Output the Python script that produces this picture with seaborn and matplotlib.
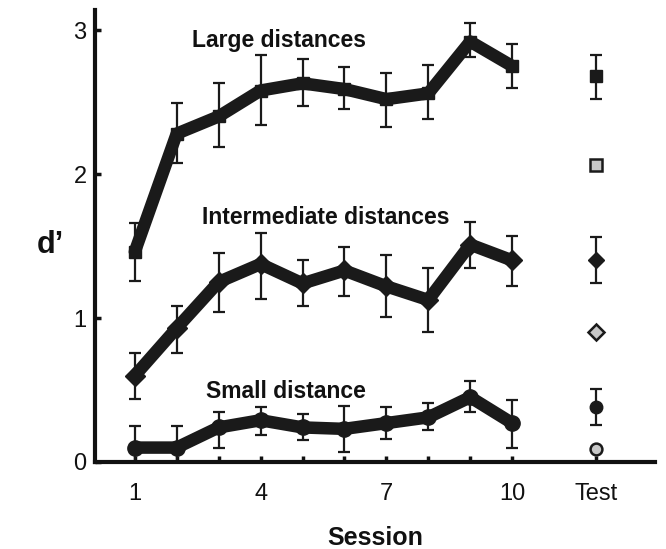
import matplotlib
matplotlib.use("Agg")
import matplotlib.pyplot as plt
import seaborn as sns
import numpy as np
import pandas as pd

sessions = [1, 2, 3, 4, 5, 6, 7, 8, 9, 10]
test_x = 12

large = [1.46, 2.28, 2.40, 2.58, 2.63, 2.59, 2.52, 2.56, 2.92, 2.75]
large_hi = [1.66, 2.49, 2.63, 2.83, 2.80, 2.74, 2.70, 2.76, 3.05, 2.90]
large_lo = [1.26, 2.08, 2.19, 2.34, 2.47, 2.45, 2.33, 2.38, 2.81, 2.60]

inter = [0.60, 0.93, 1.25, 1.375, 1.24, 1.33, 1.22, 1.125, 1.51, 1.40]
inter_hi = [0.76, 1.08, 1.45, 1.59, 1.40, 1.49, 1.44, 1.35, 1.67, 1.57]
inter_lo = [0.44, 0.76, 1.04, 1.13, 1.08, 1.15, 1.01, 0.90, 1.35, 1.22]

small = [0.10, 0.10, 0.24, 0.29, 0.24, 0.23, 0.27, 0.31, 0.45, 0.27]
small_hi = [0.25, 0.25, 0.35, 0.38, 0.33, 0.39, 0.38, 0.41, 0.56, 0.43]
small_lo = [-0.05, -0.05, 0.10, 0.19, 0.15, 0.07, 0.16, 0.22, 0.35, 0.10]

test_black = [2.68, 1.40, 0.38]
test_black_hi = [2.83, 1.56, 0.51]
test_black_lo = [2.52, 1.24, 0.26]
test_gray = [2.06, 0.90, 0.09]

labels = ["Large distances", "Intermediate distances", "Small distance"]
markers = ["s", "D", "o"]
xtick_pos = [1, 4, 7, 10, 12]
xtick_labels = ["1", "4", "7", "10", "Test"]

sns.set_style("ticks")
plt.rcParams['font.family'] = ['Liberation Sans', 'DejaVu Sans']
plt.rcParams['text.color'] = '#111111'
plt.rcParams['axes.labelcolor'] = '#111111'
plt.rcParams['xtick.color'] = '#111111'
plt.rcParams['ytick.color'] = '#111111'

fig = plt.figure(figsize=(6.66, 5.49), dpi=100)
ax = fig.add_axes([0.1426, 0.1585, 0.8404, 0.8235])

series = [(large, large_lo, large_hi), (inter, inter_lo, inter_hi), (small, small_lo, small_hi)]
msizes = [9, 10, 11]
for (vals, lo, hi), mk, ms in zip(series, markers, msizes):
    df = pd.DataFrame({"session": sessions, "d": vals})
    yerr = [np.array(vals) - np.array(lo), np.array(hi) - np.array(vals)]
    ax.errorbar(sessions, vals, yerr=yerr, fmt="none", ecolor="#1a1a1a",
                elinewidth=1.6, capsize=4, capthick=1.6, zorder=2)
    sns.lineplot(data=df, x="session", y="d", ax=ax, color="#1a1a1a",
                 linewidth=9, marker=mk, markersize=ms, markeredgecolor="#1a1a1a",
                 markeredgewidth=1, zorder=3, legend=False)

for v, lo, hi, mk in zip(test_black, test_black_lo, test_black_hi, markers):
    ax.errorbar([test_x], [v], yerr=[[v - lo], [hi - v]], fmt="none", ecolor="#1a1a1a",
                elinewidth=1.6, capsize=4, capthick=1.6, zorder=2)
    ax.plot([test_x], [v], marker=mk, markersize=9 if mk != "D" else 8.5,
            color="#1a1a1a", markeredgecolor="#1a1a1a", linestyle="none", zorder=3)
for v, mk in zip(test_gray, markers):
    ax.plot([test_x], [v], marker=mk, markersize=8.5 if mk != "D" else 8,
            color="#c8c8c8", markeredgecolor="#1a1a1a", markeredgewidth=1.8,
            linestyle="none", zorder=4)

ax.text(4.45, 2.93, labels[0], fontsize=16.5, fontweight="bold", ha="center", va="center")
ax.text(5.55, 1.70, labels[1], fontsize=16.5, fontweight="bold", ha="center", va="center")
ax.text(4.6, 0.49, labels[2], fontsize=16.5, fontweight="bold", ha="center", va="center")

ax.set_xlim(0.05, 13.4)
ax.set_ylim(0, 3.14)
ax.set_xticks(sessions + [test_x])
ax.set_xticklabels([xtick_labels[xtick_pos.index(s)] if s in xtick_pos else "" for s in sessions + [test_x]])
ax.set_yticks([0, 1, 2, 3])
ax.set_yticklabels(["0", "1", "2", "3"])
ax.tick_params(axis="both", direction="in", length=4, width=2.5, labelsize=17, color="#111111")
ax.tick_params(axis="x", pad=15)
ax.tick_params(axis="y", pad=6)

for sp in ["top", "right"]:
    ax.spines[sp].set_visible(False)
for sp in ["left", "bottom"]:
    ax.spines[sp].set_linewidth(3)
    ax.spines[sp].set_color("#111111")

ax.set_xlabel("Session", fontsize=18, fontweight="bold", labelpad=15)
ax.set_ylabel("d’", fontsize=22, fontweight="bold", rotation=0, va="center")
ax.yaxis.set_label_coords(-0.08, 0.48)

fig.savefig("out.png", dpi=100)
